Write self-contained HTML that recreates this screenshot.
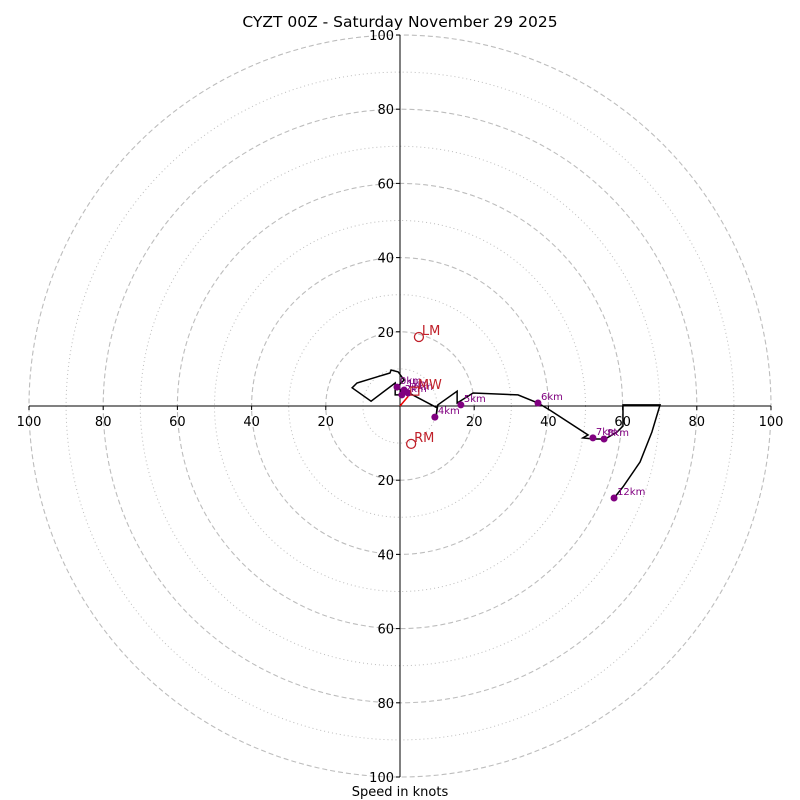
<!DOCTYPE html>
<html><head><meta charset="utf-8"><style>
body{margin:0;background:#fff;}
svg{display:block;font-family:"DejaVu Sans","Liberation Sans",sans-serif;}
</style></head><body>
<svg id="c" width="800" height="800" viewBox="0 0 800 800">
<rect width="800" height="800" fill="#fff"/>
<text x="400" y="27" text-anchor="middle" font-size="15.5">CYZT 00Z - Saturday November 29 2025</text>
<text x="400" y="796" text-anchor="middle" font-size="13">Speed in knots</text>
<g id="rings"></g><g id="axes"></g><g id="plot"></g>
</svg>
<script>
const ringValues=[10,20,30,40,50,60,70,80,90,100];
const tickValues=[20,40,60,80,100];
const pathU=[0.8,-0.5,1.1,-0.5,-2.4,-2.7,-11.6,-12.9,-7.8,-1.3,-1.3,0,1.9,10.0,9.7,10.2,15.4,15.4,19.7,31.8,37.2,40.4,50.7,49.3,52.0,55.3,58.5,60.1,60.1,70.1,67.9,64.7,60.1,57.7];
const pathV=[3.0,5.4,7.0,9.2,9.7,8.9,6.2,4.9,1.3,6.2,3.0,3.0,3.8,-0.5,-3.0,0.3,4.0,0.8,3.5,3.0,0.8,-1.1,-7.8,-8.6,-8.9,-8.9,-7.0,-5.4,0.3,0.3,-7.0,-15.1,-21.8,-24.8];
const markLabels=["0km","1km","2km","3km","4km","5km","6km","7km","8km","12km"];
const markU=[-0.8,1.1,0.5,2.2,9.4,16.4,37.2,52.0,55.0,57.7];
const markV=[5.1,4.3,3.0,3.5,-3.0,0.3,0.8,-8.6,-8.9,-24.8];
const motionLabels=["LM","RM","MW"];
const motionU=[5.1,3.0,4.0];
const motionV=[18.6,-10.2,4.0];
const cx=400,cy=406,k=3.71;
const X=u=>cx+u*k, Y=v=>cy-v*k;
const NS="http://www.w3.org/2000/svg";
function mk(tag,attrs,parent,txt){const e=document.createElementNS(NS,tag);for(const a in attrs)e.setAttribute(a,attrs[a]);if(txt!==undefined)e.textContent=txt;parent.appendChild(e);return e;}
const rings=document.getElementById('rings'),axes=document.getElementById('axes'),plot=document.getElementById('plot');
ringValues.forEach(r=>{
  const dashed=r%20===0;
  const c=mk('circle',{cx:cx,cy:cy,r:r*k,fill:'none',stroke:'#bdbdbd','stroke-width':dashed?1.1:1,'stroke-dasharray':dashed?'5,3':'1,3'},rings);
  
  
});
let l=mk('line',{x1:cx,y1:Y(100),x2:cx,y2:Y(-100),stroke:'#000','stroke-width':1},axes);

l=mk('line',{x1:X(-100),y1:cy,x2:X(100),y2:cy,stroke:'#000','stroke-width':1},axes);

tickValues.forEach(t=>{
  [1,-1].forEach(s=>{
    mk('line',{x1:cx-4,y1:Y(s*t),x2:cx,y2:Y(s*t),stroke:'#000'},axes);
    let tx=mk('text',{x:cx-6,y:Y(s*t)+5,'text-anchor':'end','font-size':13},axes,String(t));
    
    mk('line',{x1:X(s*t),y1:cy,x2:X(s*t),y2:cy+4,stroke:'#000'},axes);
    tx=mk('text',{x:X(s*t),y:cy+20,'text-anchor':'middle','font-size':13},axes,String(t));
    
  });
});
mk('line',{x1:cx,y1:cy,x2:X(motionU[2]*0.5+0.2),y2:Y(motionV[2]*0.6+0.2),stroke:'#e00','stroke-width':1.5},plot);
const pl=mk('polyline',{points:pathU.map((u,i)=>X(u)+','+Y(pathV[i])).join(' '),fill:'none',stroke:'#000','stroke-width':1.5},plot);

markU.forEach((u,i)=>{
  const c=mk('circle',{cx:X(u),cy:Y(markV[i]),r:3.5,fill:'#800080'},plot);
  
  
  const t=mk('text',{x:X(u)+3,y:Y(markV[i])-3,'font-size':10,fill:'#800080'},plot,markLabels[i]);
  
  
});
motionU.forEach((u,i)=>{
  let m;
  if(motionLabels[i]==='MW') m=mk('rect',{x:X(u)-4,y:Y(motionV[i])-4,width:8,height:8,fill:'none',stroke:'#c0202a','stroke-width':1.2},plot);
  else m=mk('circle',{cx:X(u),cy:Y(motionV[i]),r:4.5,fill:'none',stroke:'#c0202a','stroke-width':1.3},plot);
  
  
  const t=mk('text',{x:X(u)+3,y:Y(motionV[i])-2,'font-size':13,fill:'#c0202a'},plot,motionLabels[i]);
  
  
});
</script>
</body></html>
